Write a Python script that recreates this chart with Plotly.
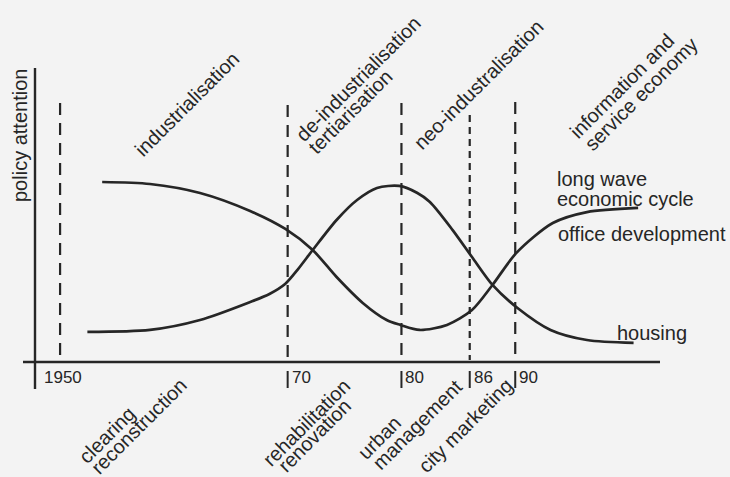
import plotly.graph_objects as go

# ---------------- data ----------------
# curve 1: starts high (left), dips around 1982, rises again
years_a = [1953.7, 1957.9, 1962.3, 1966.7, 1969.8, 1972.2, 1974.3, 1976.6, 1978.7,
           1979.9, 1981.6, 1984.0, 1986.2, 1988.0, 1990.1, 1993.3, 1996.3, 2000.8]
attn_a = [100, 98.9, 93.9, 83.9, 73.9, 62.2, 47.2, 32.8, 23.3,
          20.6, 17.8, 20.6, 28.9, 42.8, 60.6, 77.2, 83.3, 85.6]

# curve 2: starts low (left), peaks around 1980, falls again
years_b = [1952.4, 1957.9, 1962.3, 1966.7, 1968.4, 1969.8, 1970.9, 1972.2, 1974.3, 1976.1, 1977.85,
           1979.8, 1981.4, 1982.5, 1984.5, 1986.2, 1988.0, 1990.2, 1993.1, 1996.3, 2000.4]
attn_b = [16.7, 17.8, 23.3, 33.3, 37.8, 43.5, 51.5, 62.2, 78.9, 90, 96.7,
          97.8, 93.9, 88.9, 73.3, 58.3, 42.8, 30, 17.8, 12.2, 10.6]

period_years = [1950, 1970, 1980, 1986, 1990]
tick_labels = ["1950", "70", "80", "86", "90"]

top_phases = ["industrialisation", "de-industrialisation", "tertiarisation",
              "neo-industralisation", "information and", "service economy"]
bottom_policies = ["clearing", "reconstruction", "rehabilitation", "renovation",
                   "urban", "management", "city marketing"]
curve_labels = ["long wave", "economic cycle", "office development", "housing"]
y_title = "policy attention"

# ---------------- layout helpers ----------------
W, H = 730, 477
X0, PXPY = 1944.72, 11.379           # x-range start (year) and pixels per year
YPX0, PXPV = 362, 1.8                # pixel row of zero attention, pixels per unit
x_range = [X0, X0 + W / PXPY]
y_range = [(YPX0 - H) / PXPV, YPX0 / PXPV]

def px(x):
    return x / W

def py(y):
    return 1 - y / H

def vy(pixel_y):
    return (YPX0 - pixel_y) / PXPV

INK = "#262626"
FONT = "Liberation Sans, Arial, Helvetica, sans-serif"

fig = go.Figure()

for xs, ys in [(years_a, attn_a), (years_b, attn_b)]:
    fig.add_trace(go.Scatter(x=xs, y=ys, mode="lines",
                             line=dict(color=INK, width=2.7, shape="spline", smoothing=0.8),
                             hoverinfo="skip", showlegend=False))

shapes = []
# axes
shapes.append(dict(type="line", xref="paper", yref="paper", x0=px(35), x1=px(35),
                   y0=py(68), y1=py(389), line=dict(color=INK, width=2.4)))
shapes.append(dict(type="line", xref="paper", yref="paper", x0=px(23), x1=px(660),
                   y0=py(362), y1=py(362), line=dict(color=INK, width=2.4)))

dash_tops = [103, 105, 103, 115, 102]
dash_styles = ["12px,8px", "12px,8px", "12px,8px", "7px,5px", "12px,8px"]
for yr, top, ds in zip(period_years, dash_tops, dash_styles):
    shapes.append(dict(type="line", xref="x", yref="y", x0=yr, x1=yr,
                       y0=vy(top), y1=vy(360), line=dict(color=INK, width=2.2, dash=ds)))

annotations = []
# tick bars and labels
for i, (yr, lab) in enumerate(zip(period_years, tick_labels)):
    if i == 0:
        annotations.append(dict(x=px(42), y=py(377), xref="paper", yref="paper", text=lab,
                                showarrow=False, xanchor="left", yanchor="middle",
                                font=dict(size=17, color=INK, family=FONT)))
    else:
        shapes.append(dict(type="line", xref="x", yref="paper", x0=yr, x1=yr,
                           y0=py(371), y1=py(388), line=dict(color=INK, width=2)))
        annotations.append(dict(x=yr, y=py(377), xref="x", yref="paper", text=lab,
                                showarrow=False, xanchor="left", yanchor="middle", xshift=2,
                                font=dict(size=17, color=INK, family=FONT)))

def rot_label(text, cx, cy, angle=-45, size=20):
    annotations.append(dict(x=px(cx), y=py(cy), xref="paper", yref="paper", text=text,
                            showarrow=False, textangle=angle, xanchor="center",
                            yanchor="middle", font=dict(size=size, color=INK, family=FONT)))

top_centers = [(187, 104), (358, 79), (350, 112), (478, 85), (622, 86), (641, 94)]
for t, (cx, cy) in zip(top_phases, top_centers):
    rot_label(t, cx, cy)

bottom_centers = [(107, 435), (139, 426), (306, 423), (314, 436), (379, 438), (417, 425), (465, 426)]
for t, (cx, cy) in zip(bottom_policies, bottom_centers):
    rot_label(t, cx, cy)

rot_label(y_title, 20, 136, angle=-90)

curve_pos = [(555, 179), (555, 199), (556, 234), (615, 333)]
for t, (lx, ly) in zip(curve_labels, curve_pos):
    annotations.append(dict(x=px(lx), y=py(ly), xref="paper", yref="paper", text=t,
                            showarrow=False, xanchor="left", yanchor="middle",
                            font=dict(size=20, color=INK, family=FONT)))

fig.update_layout(
    width=W, height=H,
    margin=dict(l=0, r=0, t=0, b=0),
    paper_bgcolor="#f3f3f3", plot_bgcolor="#f3f3f3",
    xaxis=dict(range=x_range, visible=False, domain=[0, 1], fixedrange=True),
    yaxis=dict(range=y_range, visible=False, domain=[0, 1], fixedrange=True),
    shapes=shapes, annotations=annotations,
)

fig.write_html("out.html", config={"displayModeBar": False},
               post_script="document.body.style.margin='0';document.body.style.padding='0';"
                           "document.body.style.background='#f3f3f3';")
